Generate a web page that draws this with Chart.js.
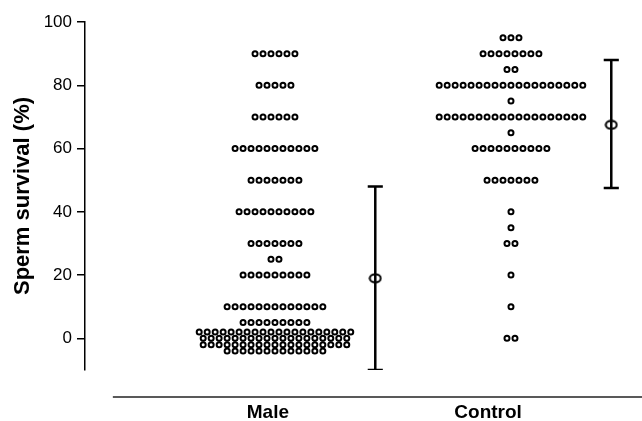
<!DOCTYPE html>
<html>
<head>
<meta charset="utf-8">
<script src="https://cdn.jsdelivr.net/npm/chart.js@4/dist/chart.umd.min.js"></script>
<style>
  html, body { margin: 0; padding: 0; background: #fff; }
  #wrap { width: 642px; height: 421px; }
</style>
</head>
<body>
<div id="wrap"><canvas id="grafico"></canvas></div>
<script>
// Grupos y posiciones de las etiquetas
const groups = ["Male", "Control"];
const groupLabelPos = [0.97, 1.903];
const yTicks = [0, 20, 40, 60, 80, 100];

// Filas de puntos (valor de supervivencia y numero de puntos por fila)
const maleLevels = [90, 80, 70, 60, 50, 40, 30, 25, 20, 10, 5, 2, 0, -2, -4];
const maleCounts = [6, 5, 6, 11, 7, 10, 7, 2, 9, 13, 9, 20, 19, 19, 13];
const controlLevels = [95, 90, 85, 80, 75, 70, 65, 60, 50, 40, 35, 30, 20, 10, 0];
const controlCounts = [3, 8, 2, 19, 1, 19, 1, 10, 7, 1, 1, 2, 1, 1, 2];

// Media y rango de cada grupo
const means = [19, 67.5];
const lows = [-10, 47.5];
const highs = [48, 88];

const dotStep = 0.0338;
const barOffset = 0.425;
const capHalf = 0.032;
const xLineStart = 0.313;

const fontFamily = "'Liberation Sans', Arial, Helvetica, sans-serif";

// Construye los puntos de una columna
const buildDots = (center, levels, counts) => {
	const pts = [];
	levels.forEach((v, r) => {
		const n = counts[r];
		for (let i = 0; i < n; i++) {
			pts.push({ x: center + (i - (n - 1) / 2) * dotStep, y: v });
		}
	});
	return pts;
};

// Construye una barra de error con sus topes
const buildBar = (gi) => {
	const ex = gi + 1 + barOffset;
	return [
		{ x: ex - capHalf, y: highs[gi] },
		{ x: ex + capHalf, y: highs[gi] },
		{ x: ex, y: null },
		{ x: ex, y: highs[gi] },
		{ x: ex, y: lows[gi] },
		{ x: ex, y: null },
		{ x: ex - capHalf, y: lows[gi] },
		{ x: ex + capHalf, y: lows[gi] },
	];
};

// Marcador eliptico para la media
const meanMark = document.createElement("canvas");
meanMark.width = 14;
meanMark.height = 11;
{
	const c = meanMark.getContext("2d");
	c.beginPath();
	c.ellipse(7, 5.5, 5.5, 4, 0, 0, Math.PI * 2);
	c.fillStyle = "#fff";
	c.fill();
	c.lineWidth = 2;
	c.strokeStyle = "#000";
	c.stroke();
}

const dotStyle = {
	type: "scatter",
	pointRadius: 2.5,
	pointHoverRadius: 2.5,
	pointBorderWidth: 2,
	pointBackgroundColor: "#fff",
	pointBorderColor: "#000",
	showLine: false,
};

const barStyle = {
	type: "scatter",
	showLine: true,
	spanGaps: false,
	borderColor: "#000",
	borderWidth: 2.5,
	pointRadius: 0,
	pointHoverRadius: 0,
};

// Linea del eje x separada del eje y
const xLine = {
	id: "xLine",
	afterDraw(chart) {
		const { ctx, chartArea } = chart;
		const x0 = chart.scales.x.getPixelForValue(xLineStart);
		const yy = chartArea.bottom + 27;
		ctx.save();
		ctx.strokeStyle = "#222";
		ctx.lineWidth = 1.5;
		ctx.beginPath();
		ctx.moveTo(x0, yy);
		ctx.lineTo(chart.width, yy);
		ctx.stroke();
		ctx.restore();
	},
};

const ctx = document.getElementById("grafico");
new Chart(ctx, {
	data: {
		datasets: [
			{ ...dotStyle, label: groups[0], data: buildDots(1, maleLevels, maleCounts) },
			{ ...dotStyle, label: groups[1], data: buildDots(2, controlLevels, controlCounts) },
			{ ...barStyle, label: "bar0", data: buildBar(0) },
			{ ...barStyle, label: "bar1", data: buildBar(1) },
			{
				type: "scatter",
				label: "mean",
				data: means.map((m, i) => ({ x: i + 1 + barOffset, y: m })),
				pointStyle: meanMark,
				clip: false,
			},
		],
	},
	options: {
		responsive: true,
		maintainAspectRatio: false,
		animation: false,
		devicePixelRatio: 1,
		layout: { padding: { top: 22, right: 0, bottom: 0, left: 0 } },
		plugins: {
			legend: { display: false },
			tooltip: { enabled: false },
		},
		scales: {
			x: {
				type: "linear",
				min: 0.195,
				max: 2.534,
				grid: { display: false },
				border: { display: false },
				afterBuildTicks: (axis) => {
					axis.ticks = groupLabelPos.map((v) => ({ value: v }));
				},
				afterFit: (axis) => {
					axis.height = 51;
				},
				ticks: {
					autoSkip: false,
					maxRotation: 0,
					padding: 23,
					color: "#000",
					font: { family: fontFamily, size: 19, weight: "bold" },
					callback: (v, i) => groups[i],
				},
			},
			y: {
				type: "linear",
				min: -10,
				max: 100,
				afterBuildTicks: (axis) => {
					axis.ticks = yTicks.map((v) => ({ value: v }));
				},
				afterFit: (axis) => {
					axis.width = 85;
				},
				grid: {
					drawOnChartArea: false,
					drawTicks: true,
					tickLength: 8,
					color: "#000",
					lineWidth: 1.5,
				},
				border: { display: true, color: "#000", width: 1.5 },
				ticks: {
					padding: 5,
					color: "#000",
					font: { family: fontFamily, size: 17 },
				},
				title: {
					display: true,
					text: "Sperm survival (%)",
					color: "#000",
					padding: { top: 10, bottom: 6 },
					font: { family: fontFamily, size: 22, weight: "bold" },
				},
			},
		},
	},
	plugins: [xLine],
});
</script>
</body>
</html>
